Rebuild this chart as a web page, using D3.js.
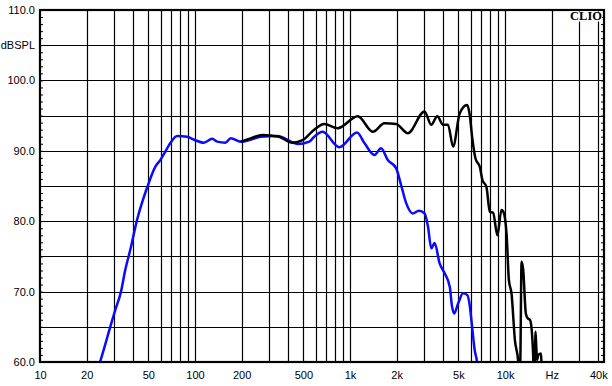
<!DOCTYPE html>
<html>
<head>
<meta charset="utf-8">
<script src="https://cdn.jsdelivr.net/npm/d3@7"></script>
<style>
  body { margin: 0; background: #fff; }
  text { font-family: "Liberation Sans", Arial, sans-serif; }
</style>
</head>
<body>
<svg width="612" height="386"></svg>
<script>
// frequency response
const blueFreq = [22, 24.4, 28.4, 30.6, 33.3, 35.5, 38.2, 42.3, 49.5, 55.5, 59.8, 64.4, 69.3, 76.8, 89, 98, 114, 129, 139, 157, 170, 197, 230, 265, 340, 436, 459, 546, 587, 665, 853, 1109, 1239, 1437, 1585, 1752, 1985, 2138, 2300, 2545, 2780, 3027, 3185, 3345, 3513, 3786, 4080, 4400, 4550, 4690, 4980, 5360, 5715, 5915, 6130, 6370, 6600, 6800];
const blueDb = [57, 60, 65.0, 67.4, 70.0, 73.1, 75.9, 80.2, 85.0, 87.75, 88.7, 89.9, 91.1, 92.1, 92.0, 91.6, 91.15, 91.7, 91.3, 91.15, 91.8, 91.3, 91.6, 92.0, 92.1, 91.1, 90.95, 91.3, 92.0, 92.7, 90.5, 92.6, 91.1, 89.4, 90.35, 88.7, 87.5, 85.1, 82.6, 81.1, 81.5, 81.1, 79.2, 76.15, 76.9, 74.0, 72.6, 70.7, 67.9, 66.9, 68.3, 69.75, 69.5, 68.1, 65.0, 61.7, 60, 57];

const blackFreq = [197, 230, 272, 348, 426, 494, 587, 682, 832, 1122, 1403, 1668, 1985, 2362, 3026, 3342, 3656, 3981, 4285, 4624, 5100, 5690, 5900, 6170, 6450, 6880, 7150, 7580, 7980, 8380, 8930, 9480, 9750, 10230, 10590, 11010, 11580, 12170, 12400, 12550, 12790, 13100, 13620, 14000, 14460, 14800, 15200, 15450, 15730, 15900, 16100, 16400, 17060, 17300];
const blackDb = [91.3, 91.8, 92.25, 92.0, 91.15, 91.5, 93.0, 93.8, 93.2, 94.9, 92.7, 93.9, 93.8, 92.5, 95.6, 93.7, 94.9, 93.7, 93.7, 90.6, 95.3, 96.5, 95.3, 91.5, 88.9, 87.7, 85.85, 84.9, 81.35, 81.2, 78.0, 81.6, 81.35, 78.2, 71.65, 69.75, 63.1, 60, 56, 60, 74.25, 73.1, 66.9, 66.2, 66.0, 65.0, 60.75, 56, 64.3, 62.2, 60.3, 61.0, 61.2, 57];

const xLabelValues = [10, 20, 50, 100, 200, 500, 1000, 2000, 5000, 10000, 20000, 40000];
const xLabelText = ["10", "20", "50", "100", "200", "500", "1k", "2k", "5k", "10k", "Hz", "40k"];
const yTickValues = [60, 65, 70, 75, 80, 85, 90, 95, 100, 105, 110];
const yLabelText = ["60.0", "", "70.0", "", "80.0", "", "90.0", "", "100.0", "dBSPL", "110.0"];

const plotL = 40, plotR = 604, plotT = 10, plotB = 362;
const svg = d3.select("svg");

let xScale = d3.scaleLog().domain([10, 43500]).range([plotL, plotR]);
let yScale = d3.scaleLinear().domain([60, 110]).range([plotB, plotT]);

svg.append("rect").attr("width", 612).attr("height", 386).attr("fill", "#fff");

// gridlines
let gridFreqs = [];
[10, 100, 1000, 10000].forEach(dec => {
  for (let m = 1; m <= 9; m++) {
    let f = dec * m;
    if (f > 10 && f <= 40000) gridFreqs.push(f);
  }
});

svg.append("g").selectAll("line")
  .data(gridFreqs).enter().append("line")
  .attr("x1", d => Math.round(xScale(d)) + 0.5)
  .attr("x2", d => Math.round(xScale(d)) + 0.5)
  .attr("y1", plotT).attr("y2", plotB)
  .attr("stroke", "#000").attr("stroke-width", 1.2);

svg.append("g").selectAll("line")
  .data(yTickValues).enter().append("line")
  .attr("x1", plotL).attr("x2", plotR)
  .attr("y1", d => Math.round(yScale(d)) + 0.5)
  .attr("y2", d => Math.round(yScale(d)) + 0.5)
  .attr("stroke", "#000").attr("stroke-width", 1.2);

// minor ticks, 1 dB, inside both sides
let minorTicks = d3.range(60, 111, 1);
let leftMinor = d3.axisRight(yScale).tickValues(minorTicks).tickSize(3).tickFormat("");
svg.append("g").attr("transform", `translate(${plotL}, 0)`).call(leftMinor);
let rightMinor = d3.axisLeft(yScale).tickValues(minorTicks).tickSize(3).tickFormat("");
svg.append("g").attr("transform", `translate(${plotR}, 0)`).call(rightMinor);
svg.selectAll(".domain").remove();

// curves
svg.append("clipPath").attr("id", "plotClip")
  .append("rect").attr("x", plotL).attr("y", plotT)
  .attr("width", plotR - plotL).attr("height", plotB - plotT);

let line = d3.line()
  .x(d => xScale(d[0]))
  .y(d => yScale(d[1]))
  .curve(d3.curveMonotoneX);

svg.append("path")
  .attr("d", line(d3.zip(blueFreq, blueDb)))
  .attr("clip-path", "url(#plotClip)")
  .attr("fill", "none").attr("stroke", "#0a0aff").attr("stroke-width", 2.5);

svg.append("path")
  .attr("d", line(d3.zip(blackFreq, blackDb)))
  .attr("clip-path", "url(#plotClip)")
  .attr("fill", "none").attr("stroke", "#000").attr("stroke-width", 2.5);

// frame
svg.append("rect")
  .attr("x", plotL).attr("y", plotT)
  .attr("width", plotR - plotL).attr("height", plotB - plotT)
  .attr("fill", "none").attr("stroke", "#000").attr("stroke-width", 2.2);

// axis labels
let yAxis = d3.axisLeft(yScale).tickValues(yTickValues).tickSize(0).tickPadding(5)
  .tickFormat((d, i) => yLabelText[i]);
svg.append("g").attr("id", "yAxisG").attr("transform", `translate(${plotL}, 0)`).call(yAxis);

let xAxis = d3.axisBottom(xScale).tickValues(xLabelValues).tickSize(0).tickPadding(9)
  .tickFormat((d, i) => xLabelText[i]);
svg.append("g").attr("id", "xAxisG").attr("transform", `translate(0, ${plotB})`).call(xAxis);

svg.selectAll("#yAxisG .domain, #xAxisG .domain").remove();
svg.selectAll("#yAxisG text, #xAxisG text")
  .style("font-family", "'Liberation Sans', Arial, sans-serif")
  .style("font-size", "11px").attr("fill", "#000");

// CLIO badge
svg.append("rect").attr("x", 570).attr("y", 11.5).attr("width", 32).attr("height", 10).attr("fill", "#fff");
svg.append("text")
  .attr("x", 602).attr("y", 20)
  .attr("text-anchor", "end")
  .style("font-family", "'Liberation Serif', 'Times New Roman', serif")
  .style("font-weight", "bold").style("font-size", "12.5px")
  .text("CLIO");
</script>
</body>
</html>
